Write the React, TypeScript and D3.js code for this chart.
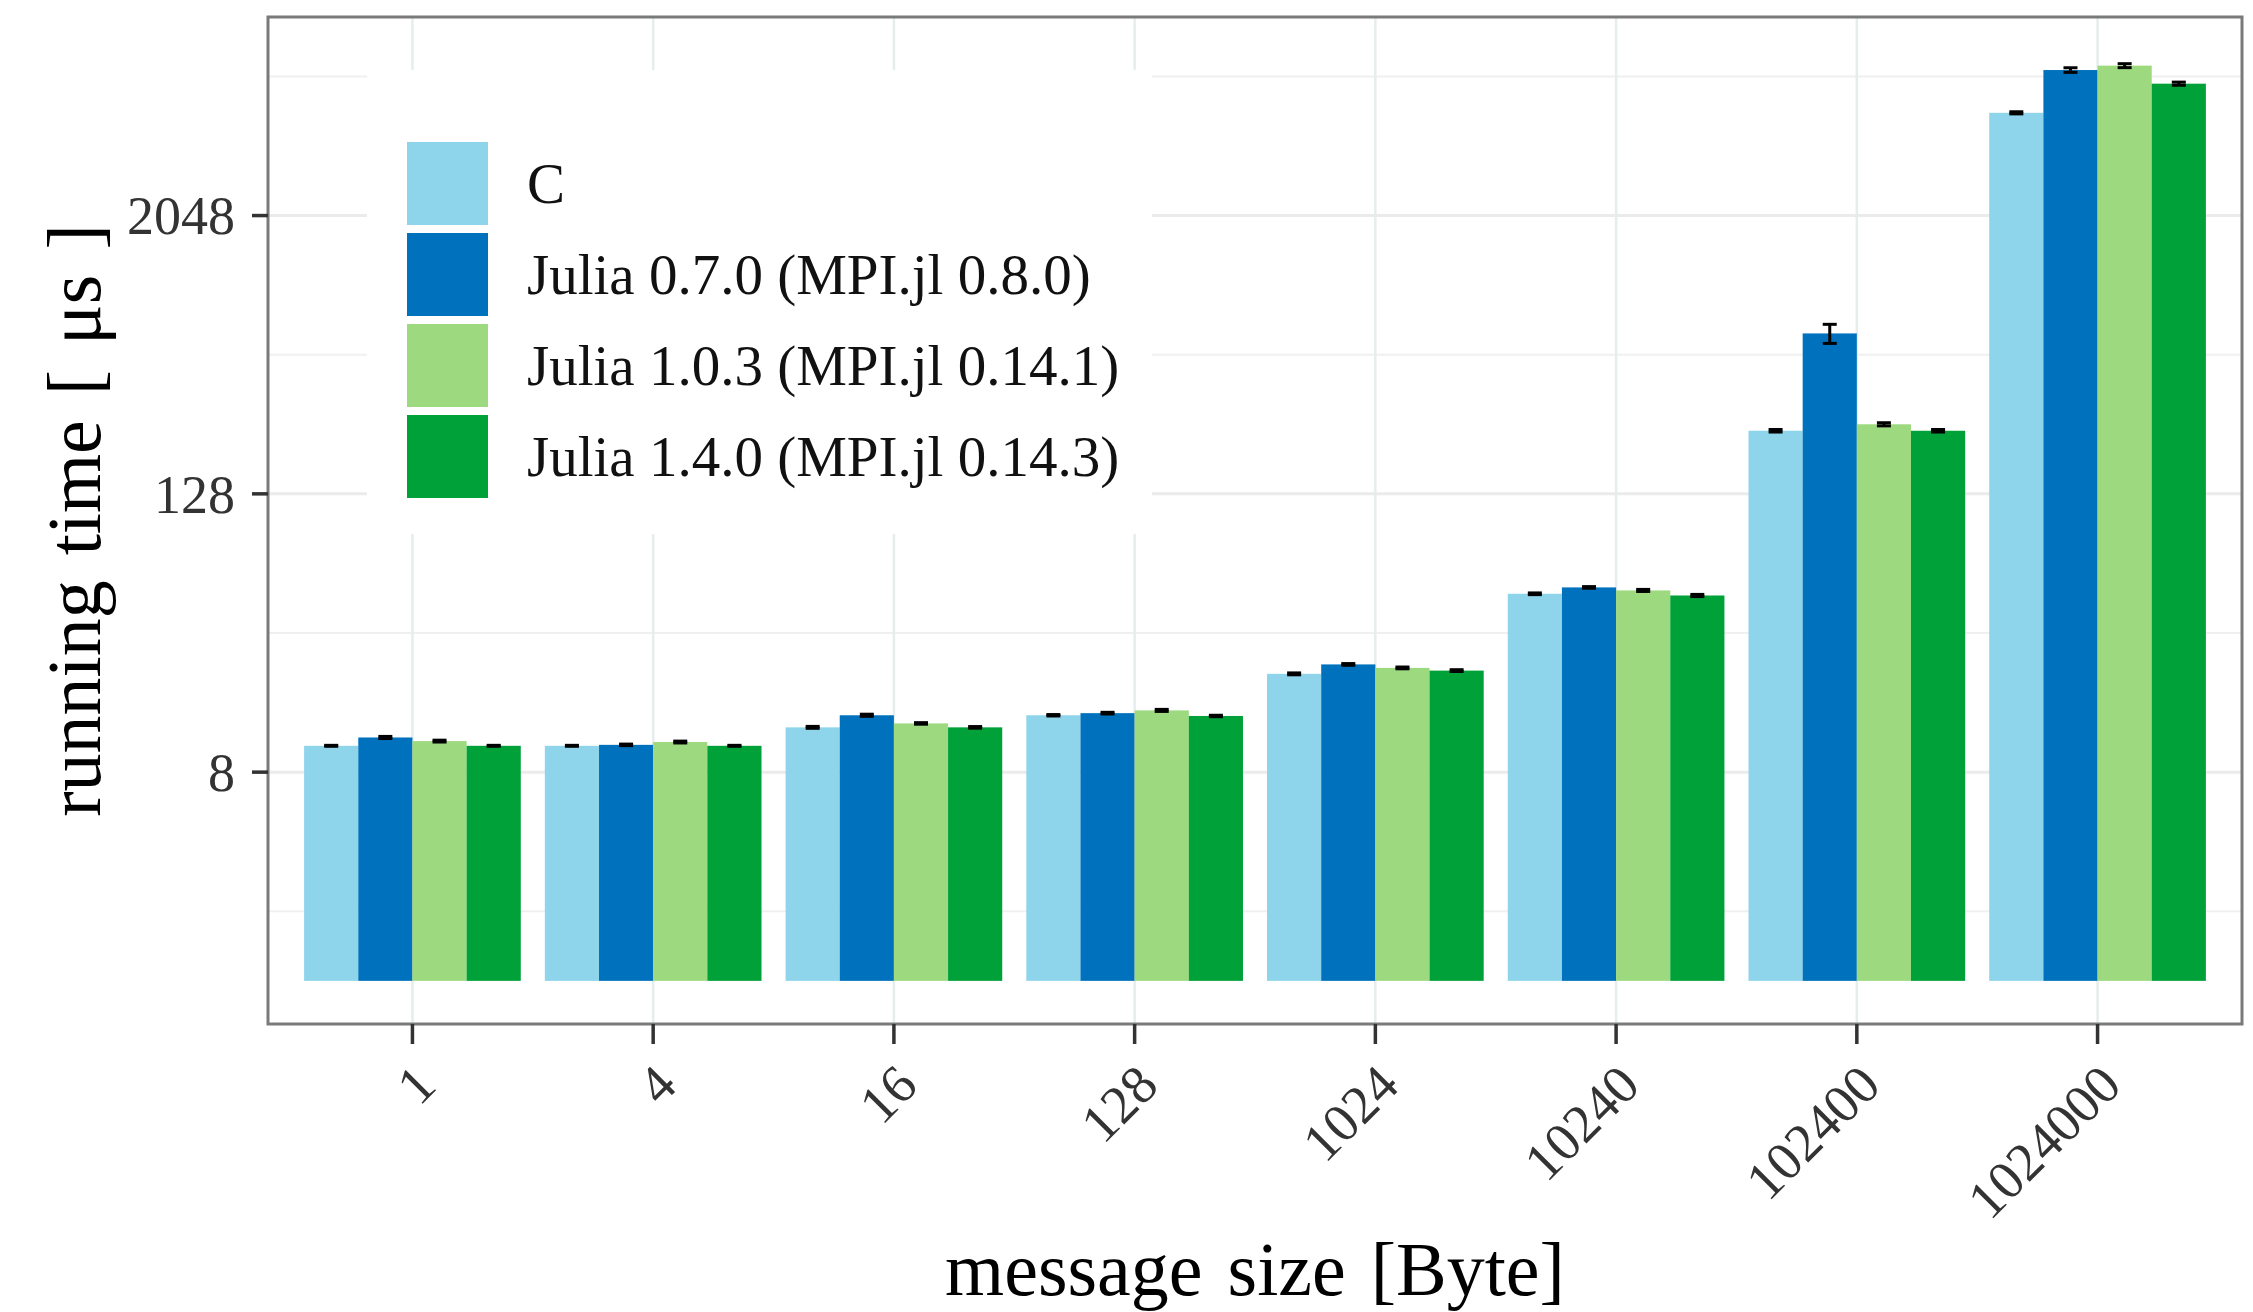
import React from 'react';
import * as d3 from 'd3';

// message sizes (x categories)
const sizes = ['1', '4', '16', '128', '1024', '10240', '102400', '1024000'];
const seriesNames = [
  'C',
  'Julia 0.7.0 (MPI.jl 0.8.0)',
  'Julia 1.0.3 (MPI.jl 0.14.1)',
  'Julia 1.4.0 (MPI.jl 0.14.3)',
];
const seriesColors = ['#8ED4EB', '#0072BD', '#9DD97E', '#00A139'];

// running time in microseconds
const cTimes = [10.4, 10.4, 12.5, 14.1, 21.3, 47.3, 240, 5700];
const julia07Times = [11.3, 10.5, 14.1, 14.4, 23.4, 50.4, 633, 8730];
const julia103Times = [10.9, 10.8, 13.0, 14.8, 22.6, 48.9, 256, 9120];
const julia14Times = [10.4, 10.4, 12.5, 14.0, 22.0, 46.5, 240, 7620];

// error bar half-widths
const cErr = [0.05, 0.05, 0.12, 0.1, 0.2, 0.4, 3, 60];
const julia07Err = [0.12, 0.08, 0.15, 0.12, 0.2, 0.4, 60, 200];
const julia103Err = [0.1, 0.1, 0.1, 0.15, 0.2, 0.5, 4, 180];
const julia14Err = [0.05, 0.05, 0.1, 0.1, 0.2, 0.5, 3, 120];

const majorTicks = [8, 128, 2048];
const minorTicks = [2, 32, 512, 8192];

const W = 2253;
const H = 1312;
const panel = { left: 268, right: 2242, top: 17, bottom: 1024 };
const font = '"Liberation Serif", "Times New Roman", serif';

export default function App() {
  const series = [cTimes, julia07Times, julia103Times, julia14Times];
  const errs = [cErr, julia07Err, julia103Err, julia14Err];

  const unit = (panel.right - panel.left) / (sizes.length - 1 + 1.2);
  const x = d3.scalePoint<string>()
    .domain(sizes)
    .range([panel.left + 0.6 * unit, panel.right - 0.6 * unit]);
  const dodge = d3.scaleBand<number>()
    .domain(d3.range(series.length))
    .range([-0.45 * unit, 0.45 * unit])
    .padding(0);

  const y = d3.scaleLog()
    .base(2)
    .domain([Math.pow(2, -0.62), Math.pow(2, 13.854)])
    .range([panel.bottom, panel.top]);

  const bw = dodge.bandwidth();
  const capW = 14;

  return (
    <svg width={W} height={H} style={{ position: 'absolute', left: 0, top: 0, background: '#fff' }}
      fontFamily={font}>
      <rect x={0} y={0} width={W} height={H} fill="#fff" />

      {/* grid */}
      {minorTicks.map(t => (
        <line key={'mi' + t} x1={panel.left} x2={panel.right} y1={y(t)} y2={y(t)}
          stroke="#F0F0F0" strokeWidth={2} />
      ))}
      {majorTicks.map(t => (
        <line key={'ma' + t} x1={panel.left} x2={panel.right} y1={y(t)} y2={y(t)}
          stroke="#EBEBEB" strokeWidth={3} />
      ))}
      {sizes.map(s => (
        <line key={'vg' + s} x1={x(s)} x2={x(s)} y1={panel.top} y2={panel.bottom}
          stroke="#E6EDED" strokeWidth={2.5} />
      ))}

      {/* bars */}
      {series.map((vals, si) => vals.map((v, i) => (
        <rect key={`b${si}-${i}`}
          x={(x(sizes[i]) as number) + (dodge(si) as number)}
          y={y(v)}
          width={bw}
          height={y(1) - y(v)}
          fill={seriesColors[si]} />
      )))}

      {/* error bars */}
      {series.map((vals, si) => vals.map((v, i) => {
        const cx = (x(sizes[i]) as number) + (dodge(si) as number) + bw / 2;
        const lo = y(v - errs[si][i]);
        const hi = y(v + errs[si][i]);
        return (
          <g key={`e${si}-${i}`} stroke="#000" strokeWidth={3}>
            <line x1={cx} x2={cx} y1={lo} y2={hi} />
            <line x1={cx - capW / 2} x2={cx + capW / 2} y1={lo} y2={lo} />
            <line x1={cx - capW / 2} x2={cx + capW / 2} y1={hi} y2={hi} />
          </g>
        );
      }))}

      {/* legend */}
      <rect x={367} y={70} width={785} height={464} fill="#fff" />
      {seriesNames.map((name, i) => {
        const top = 142 + i * 91;
        return (
          <g key={'lg' + i}>
            <rect x={407} y={top} width={81} height={83} fill={seriesColors[i]} />
            <text x={527} y={top + 41.5} dy="0.35em" fontSize={57} fill="#111">{name}</text>
          </g>
        );
      })}

      {/* panel border */}
      <rect x={panel.left} y={panel.top} width={panel.right - panel.left}
        height={panel.bottom - panel.top} fill="none" stroke="#7A7A7A" strokeWidth={3} />

      {/* y axis */}
      {majorTicks.map(t => (
        <g key={'yt' + t}>
          <line x1={panel.left - 16} x2={panel.left} y1={y(t)} y2={y(t)} stroke="#333" strokeWidth={3.5} />
          <text x={panel.left - 33} y={y(t)} dy="0.35em" textAnchor="end" fontSize={54} fill="#333">{t}</text>
        </g>
      ))}

      {/* x axis */}
      {sizes.map(s => (
        <g key={'xt' + s}>
          <line x1={x(s)} x2={x(s)} y1={panel.bottom} y2={panel.bottom + 20} stroke="#333" strokeWidth={3.5} />
          <text transform={`translate(${x(s)},${panel.bottom + 38}) rotate(-45)`}
            dy="0.68em" textAnchor="end" fontSize={54} fill="#333">{s}</text>
        </g>
      ))}

      {/* titles */}
      <text x={(panel.left + panel.right) / 2} y={1295} textAnchor="middle" fontSize={76} fill="#000"
        style={{ wordSpacing: '6px' }}>message size [Byte]</text>
      <text transform={`translate(100,${(panel.top + panel.bottom) / 2}) rotate(-90)`}
        textAnchor="middle" fontSize={76} fill="#000" style={{ wordSpacing: '6px' }}>running time [ μs ]</text>
    </svg>
  );
}
